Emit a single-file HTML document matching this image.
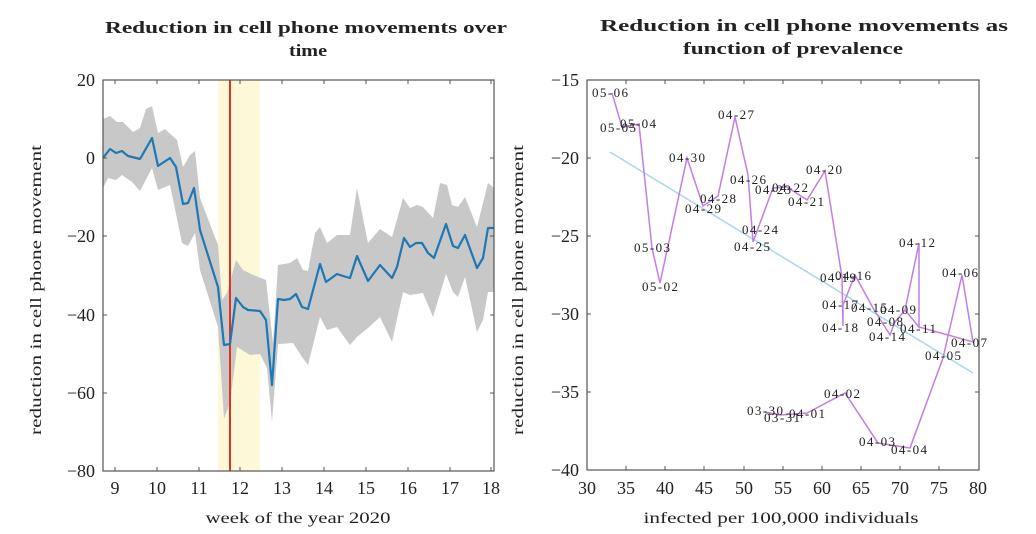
<!DOCTYPE html>
<html><head><style>body{margin:0;background:#fff}svg{display:block}text{font-family:"Liberation Serif",serif;fill:#222}</style></head><body>
<svg width="1036" height="534" viewBox="0 0 1036 534">
<g font-weight="bold" font-size="17" text-anchor="middle" lengthAdjust="spacingAndGlyphs">
<text x="306" y="33" textLength="402" lengthAdjust="spacingAndGlyphs">Reduction in cell phone movements over</text>
<text x="308" y="56" textLength="38" lengthAdjust="spacingAndGlyphs">time</text>
<text x="804" y="31" textLength="408" lengthAdjust="spacingAndGlyphs">Reduction in cell phone movements as</text>
<text x="793" y="54" textLength="220" lengthAdjust="spacingAndGlyphs">function of prevalence</text>
</g>
<!-- LEFT -->
<rect x="218" y="80" width="42" height="391" fill="#fcf8d8"/>
<polygon fill="#c8c8c8" points="103,119 110,116 117,122 123,122 133,132 140,128 146,109 152,106 158,133 165,129 177,140 183,167 190,155 195,151 200,198 218,245 222,300 227,293 236,260 243,270 253,275 266,280 273,343 278,265 290,263 297,258 303,270 308,271 315,233 320,227 327,243 337,235 350,235 357,188 368,243 380,229 392,237 403,198 410,208 417,205 423,207 433,218 440,183 447,185 452,205 458,207 465,197 477,227 488,183 494,188 494,292 488,292 483,320 477,332 465,277 458,297 453,292 446,274 433,317 423,293 410,295 403,292 392,342 380,317 368,328 357,337 350,345 337,327 327,330 320,317 308,365 302,357 293,343 278,344 272,422 267,368 260,354 250,355 237,347 230,403 224,419 218,327 200,270 195,233 188,246 182,243 170,185 158,190 152,168 140,191 132,182 122,175 116,180 108,178 103,188"/>
<line x1="230" y1="80" x2="230" y2="471" stroke="#e03020" stroke-width="2"/>
<polyline fill="none" stroke="#1f77b4" stroke-width="2.2" stroke-linejoin="round" points="103,158 110,149 116,153 122,151 128,156 140,159 152,138 158,166 170,158 176,167 183,204 188,203 194,188 200,230 218,287 224,345 230,344 236,298 243,307 248,310 260,311 266,320 272,385 278,299 284,300 290,299 296,294 302,307 308,309 320,264 326,282 337,274 343,276 350,278 357,256 368,281 380,265 392,278 397,267 404,238 410,247 416,243 422,243 428,253 434,258 446,224 453,246 458,248 465,235 477,268 483,258 488,228 494,228"/>
<rect x="103" y="80" width="391" height="391" fill="none" stroke="#555" stroke-width="1.2"/>
<g stroke="#555" stroke-width="1">
<path d="M115,471v-4M157,471v-4M199,471v-4M240,471v-4M282,471v-4M324,471v-4M366,471v-4M408,471v-4M450,471v-4M491,471v-4M115,80v4M157,80v4M199,80v4M240,80v4M282,80v4M324,80v4M366,80v4M408,80v4M450,80v4M491,80v4"/>
<path d="M103,80h4M103,158h4M103,236h4M103,315h4M103,393h4M103,471h4M494,158h-4M494,236h-4M494,315h-4M494,393h-4"/>
</g>
<g font-size="18" text-anchor="middle">
<text x="115" y="494">9</text><text x="157" y="494">10</text><text x="199" y="494">11</text><text x="240" y="494">12</text><text x="282" y="494">13</text><text x="324" y="494">14</text><text x="366" y="494">15</text><text x="408" y="494">16</text><text x="450" y="494">17</text><text x="491" y="494">18</text>
</g>
<g font-size="18" text-anchor="end">
<text x="95" y="86">20</text><text x="95" y="164">0</text><text x="95" y="242">−20</text><text x="95" y="321">−40</text><text x="95" y="399">−60</text><text x="95" y="477">−80</text>
</g>
<text x="298" y="523" font-size="16" text-anchor="middle" textLength="185" lengthAdjust="spacingAndGlyphs">week of the year 2020</text>
<text transform="translate(41,290) rotate(-90)" font-size="16" text-anchor="middle" textLength="290" lengthAdjust="spacingAndGlyphs">reduction in cell phone movement</text>
<!-- RIGHT -->
<line x1="610" y1="152" x2="973" y2="373" stroke="#a8d8ea" stroke-width="1.5"/>
<polyline fill="none" stroke="#c27ee0" stroke-width="1.5" points="612,93 622,127 639,124 652,248 660,283 687,158 703,206 718,196 735,117 748,175 753,242 773,188 787,187 807,200 825,171 842,277 843,326 843,305 855,275 873,308 890,335 895,322 905,310 919,327 919,243 905,310 919,327 973,342 962,275 943,358 910,448 878,443 845,393 807,413 780,415 765,412"/>
<rect x="587" y="80" width="392" height="390" fill="none" stroke="#555" stroke-width="1.2"/>
<g stroke="#555" stroke-width="1">
<path d="M626,470v-4M665,470v-4M704,470v-4M744,470v-4M783,470v-4M822,470v-4M861,470v-4M900,470v-4M939,470v-4M626,80v4M665,80v4M704,80v4M744,80v4M783,80v4M822,80v4M861,80v4M900,80v4M939,80v4"/>
<path d="M587,158h4M587,236h4M587,314h4M587,392h4M979,158h-4M979,236h-4M979,314h-4M979,392h-4"/>
</g>
<g font-size="18" text-anchor="middle">
<text x="587" y="494">30</text><text x="626" y="494">35</text><text x="665" y="494">40</text><text x="704" y="494">45</text><text x="744" y="494">50</text><text x="783" y="494">55</text><text x="822" y="494">60</text><text x="861" y="494">65</text><text x="900" y="494">70</text><text x="939" y="494">75</text><text x="978" y="494">80</text>
</g>
<g font-size="18" text-anchor="end">
<text x="579" y="86">−15</text><text x="579" y="164">−20</text><text x="579" y="242">−25</text><text x="579" y="320">−30</text><text x="579" y="398">−35</text><text x="579" y="476">−40</text>
</g>
<text x="781" y="523" font-size="16" text-anchor="middle" textLength="275" lengthAdjust="spacingAndGlyphs">infected per 100,000 individuals</text>
<text transform="translate(523,290) rotate(-90)" font-size="16" text-anchor="middle" textLength="290" lengthAdjust="spacingAndGlyphs">reduction in cell phone movement</text>
<g font-size="13" text-anchor="middle" fill="#333">
<text x="610" y="97" textLength="36">05-06</text><text x="618" y="132" textLength="36">05-05</text><text x="638" y="128" textLength="36">05-04</text><text x="652" y="252" textLength="36">05-03</text><text x="660" y="291" textLength="36">05-02</text><text x="687" y="162" textLength="36">04-30</text><text x="703" y="213" textLength="36">04-29</text><text x="718" y="203" textLength="36">04-28</text><text x="736" y="119" textLength="36">04-27</text><text x="748" y="184" textLength="36">04-26</text><text x="752" y="251" textLength="36">04-25</text><text x="760" y="234" textLength="36">04-24</text><text x="773" y="194" textLength="36">04-23</text><text x="790" y="192" textLength="36">04-22</text><text x="806" y="206" textLength="36">04-21</text><text x="824" y="174" textLength="36">04-20</text><text x="838" y="282" textLength="36">04-19</text><text x="853" y="280" textLength="36">04-16</text><text x="840" y="309" textLength="36">04-17</text><text x="869" y="312" textLength="36">04-15</text><text x="840" y="332" textLength="36">04-18</text><text x="898" y="314" textLength="36">04-09</text><text x="885" y="326" textLength="36">04-08</text><text x="887" y="341" textLength="36">04-14</text><text x="918" y="333" textLength="36">04-11</text><text x="917" y="247" textLength="36">04-12</text><text x="960" y="277" textLength="36">04-06</text><text x="969" y="347" textLength="36">04-07</text><text x="943" y="360" textLength="36">04-05</text><text x="842" y="398" textLength="36">04-02</text><text x="765" y="415" textLength="36">03-30</text><text x="782" y="422" textLength="36">03-31</text><text x="807" y="418" textLength="36">04-01</text><text x="877" y="446" textLength="36">04-03</text><text x="909" y="454" textLength="36">04-04</text>
</g>
</svg>
</body></html>
